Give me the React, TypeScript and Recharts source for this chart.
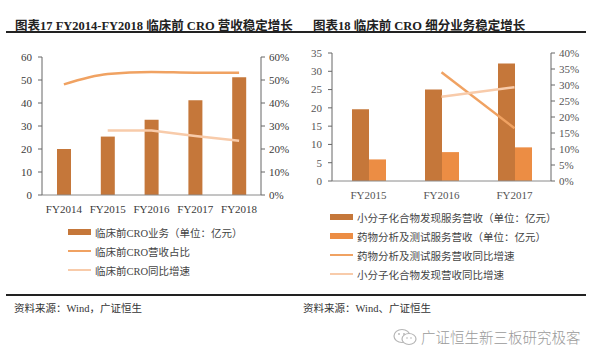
import { ComposedChart, Bar, Line, XAxis, YAxis } from 'recharts';

// 图表17
const years17 = ['FY2014', 'FY2015', 'FY2016', 'FY2017', 'FY2018'];
const croRevenue = [20, 25.4, 32.7, 41.2, 51.2];
const croShare = [0.481, 0.526, 0.535, 0.532, 0.532];
const croGrowth = [null, 0.28, 0.28, 0.257, 0.236];
const ticks17Left = [0, 10, 20, 30, 40, 50, 60];
const ticks17Right = [0, 0.1, 0.2, 0.3, 0.4, 0.5, 0.6];
const legend17 = ['临床前CRO业务（单位：亿元）', '临床前CRO营收占比', '临床前CRO同比增速'];

// 图表18
const years18 = ['FY2015', 'FY2016', 'FY2017'];
const smallMolRevenue = [19.6, 25.0, 32.1];
const analysisRevenue = [5.9, 7.9, 9.2];
const analysisGrowth = [null, 0.34, 0.165];
const smallMolGrowth = [null, 0.263, 0.293];
const ticks18Left = [0, 5, 10, 15, 20, 25, 30, 35];
const ticks18Right = [0, 0.05, 0.1, 0.15, 0.2, 0.25, 0.3, 0.35, 0.4];
const legend18 = [
  '小分子化合物发现服务营收（单位：亿元）',
  '药物分析及测试服务营收（单位：亿元）',
  '药物分析及测试服务营收同比增速',
  '小分子化合物发现营收同比增速',
];

const DARK = '#C5773A';
const LIGHT_BAR = '#EC8D44';
const LINE1 = '#F0A262';
const LINE2 = '#F8CBAA';

const SERIF = "'Liberation Serif', 'Noto Sans CJK SC', serif";
const AXIS = '#8a8a8a';

const data17 = years17.map((y, i) => ({ year: y, rev: croRevenue[i], share: croShare[i], growth: croGrowth[i] }));
const data18 = years18.map((y, i) => ({
  year: y,
  sm: smallMolRevenue[i],
  an: analysisRevenue[i],
  anG: analysisGrowth[i],
  smG: smallMolGrowth[i],
}));

const pct = (v: number) => `${Math.round(v * 100)}%`;

function LegendRows({ items, colors, kinds, left, top, gap }: any) {
  return (
    <div style={{ position: 'absolute', left, top }}>
      {items.map((label: string, i: number) => (
        <div key={label} style={{ position: 'absolute', top: i * gap, left: 0, display: 'flex', alignItems: 'center', whiteSpace: 'nowrap', height: 14, marginTop: -7 }}>
          <div style={{ width: 23, height: kinds[i] === 'bar' ? 6 : 2, background: colors[i], marginRight: 4 }} />
          <span style={{ fontFamily: SERIF, fontSize: 10.5, color: '#444' }}>{label}</span>
        </div>
      ))}
    </div>
  );
}

export default function App() {
  const tick = { fontFamily: SERIF, fontSize: 11, fill: '#3a3a3a' };
  const tick2 = { fontFamily: SERIF, fontSize: 11, fill: '#555' };
  return (
    <div style={{ position: 'absolute', left: 0, top: 0, width: 600, height: 361, background: '#fff', overflow: 'hidden' }}>
      <div style={{ position: 'absolute', left: 15, top: 15, fontFamily: SERIF, fontWeight: 'bold', fontSize: 12.5, color: '#222', whiteSpace: 'nowrap' }}>
        图表17 FY2014-FY2018 临床前 CRO 营收稳定增长
      </div>
      <div style={{ position: 'absolute', left: 313, top: 15, fontFamily: SERIF, fontWeight: 'bold', fontSize: 12.5, color: '#222', whiteSpace: 'nowrap' }}>
        图表18 临床前 CRO 细分业务稳定增长
      </div>
      <div style={{ position: 'absolute', left: 6, top: 31, width: 580, height: 2, background: '#222' }} />

      <div style={{ position: 'absolute', left: 0, top: 0 }}>
        <ComposedChart width={300} height={220} data={data17} margin={{ top: 57, right: 0, bottom: 0, left: 0 }}>
          <XAxis dataKey="year" height={25} tickLine={false} axisLine={{ stroke: AXIS }} tick={tick} tickMargin={4} interval={0} />
          <YAxis yAxisId="l" width={42} domain={[0, 60]} ticks={ticks17Left} interval={0} tick={tick} tickSize={4} tickMargin={6} axisLine={{ stroke: '#666' }} tickLine={{ stroke: '#666' }} />
          <YAxis yAxisId="r" orientation="right" width={39} domain={[0, 0.6]} ticks={ticks17Right} interval={0} tickFormatter={pct} tick={tick} tickSize={4} tickMargin={4} axisLine={{ stroke: '#666' }} tickLine={{ stroke: '#666' }} />
          <Bar yAxisId="l" dataKey="rev" fill={DARK} barSize={14} isAnimationActive={false} />
          <Line yAxisId="r" dataKey="share" type="monotone" stroke={LINE1} strokeWidth={2.5} dot={false} isAnimationActive={false} />
          <Line yAxisId="r" dataKey="growth" type="linear" stroke={LINE2} strokeWidth={2.5} dot={false} isAnimationActive={false} />
        </ComposedChart>
      </div>

      <div style={{ position: 'absolute', left: 300, top: 0 }}>
        <ComposedChart width={300} height={206} data={data18} margin={{ top: 53, right: 0, bottom: 0, left: 0 }} barGap={0} barCategoryGap="27%">
          <XAxis dataKey="year" height={25} tickLine={false} axisLine={{ stroke: AXIS }} tick={tick2} tickMargin={4} interval={0} />
          <YAxis yAxisId="l" width={32} domain={[0, 35]} ticks={ticks18Left} interval={0} tick={tick2} tickSize={4} tickMargin={6} axisLine={{ stroke: '#666' }} tickLine={{ stroke: '#666' }} />
          <YAxis yAxisId="r" orientation="right" width={49} domain={[0, 0.4]} ticks={ticks18Right} interval={0} tickFormatter={pct} tick={tick2} tickSize={4} tickMargin={4} axisLine={{ stroke: '#666' }} tickLine={{ stroke: '#666' }} />
          <Bar yAxisId="l" dataKey="sm" fill={DARK} barSize={17} isAnimationActive={false} />
          <Bar yAxisId="l" dataKey="an" fill={LIGHT_BAR} barSize={17} isAnimationActive={false} />
          <Line yAxisId="r" dataKey="anG" stroke={LINE1} strokeWidth={2.5} dot={false} isAnimationActive={false} />
          <Line yAxisId="r" dataKey="smG" stroke={LINE2} strokeWidth={2.5} dot={false} isAnimationActive={false} />
        </ComposedChart>
      </div>

      <LegendRows items={legend17} colors={[DARK, LINE1, LINE2]} kinds={['bar', 'line', 'line']} left={68} top={232} gap={19} />
      <LegendRows items={legend18} colors={[DARK, LIGHT_BAR, LINE1, LINE2]} kinds={['bar', 'bar', 'line', 'line']} left={330} top={217} gap={19} />

      <div style={{ position: 'absolute', left: 6, top: 294, width: 580, height: 2, background: '#222' }} />
      <div style={{ position: 'absolute', left: 14, top: 300, fontFamily: SERIF, fontSize: 10.5, color: '#333', whiteSpace: 'nowrap' }}>
        资料来源：Wind，广证恒生
      </div>
      <div style={{ position: 'absolute', left: 303, top: 300, fontFamily: SERIF, fontSize: 10.5, color: '#333', whiteSpace: 'nowrap' }}>
        资料来源：Wind、广证恒生
      </div>

      <div style={{ position: 'absolute', left: 392, top: 326, display: 'flex', alignItems: 'center', whiteSpace: 'nowrap' }}>
        <svg width={26} height={20} style={{ marginRight: 3 }}>
          <ellipse cx={10} cy={9} rx={8} ry={6.5} fill="none" stroke="#b5b5b5" strokeWidth={1.2} />
          <ellipse cx={17} cy={12} rx={7} ry={5.5} fill="#fff" stroke="#b5b5b5" strokeWidth={1.2} />
          <circle cx={7} cy={7} r={0.9} fill="#b5b5b5" />
          <circle cx={12} cy={7} r={0.9} fill="#b5b5b5" />
          <circle cx={15} cy={11} r={0.8} fill="#b5b5b5" />
          <circle cx={19} cy={11} r={0.8} fill="#b5b5b5" />
        </svg>
        <span style={{ fontFamily: "'Noto Sans CJK SC', sans-serif", fontSize: 14.5, color: '#9a9a9a', fontWeight: 300 }}>广证恒生新三板研究极客</span>
      </div>
    </div>
  );
}
